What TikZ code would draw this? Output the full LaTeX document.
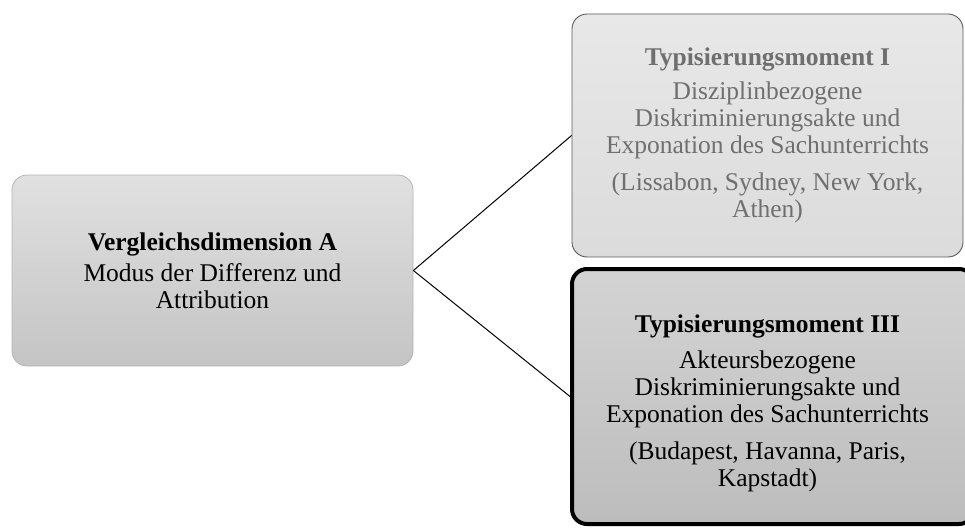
\documentclass[tikz,border=0pt]{standalone}
\usepackage{fontspec}
\setmainfont{Liberation Serif}
\usetikzlibrary{positioning}
\definecolor{txtgray}{HTML}{6F6F6F}
\definecolor{lborder}{HTML}{B4B4B4}
\definecolor{tborder}{HTML}{5A5A5A}
\tikzset{
  boxfont/.style={font=\fontsize{25.5}{27}\selectfont},
  box/.style={rounded corners=15pt, align=center, inner sep=0pt, boxfont},
  leftbox/.style={box, draw=lborder, line width=0.8pt, top color=black!12, bottom color=black!23,
    minimum width=401pt, minimum height=191pt},
  topbox/.style={box, draw=tborder, line width=0.9pt, top color=black!9, bottom color=black!14,
    minimum width=391pt, minimum height=243pt, text=txtgray},
  botbox/.style={box, draw=black, line width=4pt, top color=black!17, bottom color=black!26,
    minimum width=402pt, minimum height=255pt},
  conn/.style={draw=black, line width=1pt}
}
\begin{document}
\begin{tikzpicture}[x=1pt,y=-1pt]
\useasboundingbox (0,0) rectangle (965,527);
\clip (0,0) rectangle (965,527);
\node[leftbox] (dimA) at (212.5,270.5) {\textbf{Vergleichsdimension A}\\[4pt]Modus der Differenz und\\Attribution};
\node[topbox] (tm1) at (767.5,135.5) {\textbf{Typisierungsmoment I}\\[7pt]Disziplinbezogene\\Diskriminierungsakte und\\Exponation des Sachunterrichts\\[10pt](Lissabon, Sydney, New York,\\Athen)};
\node[botbox] (tm3) at (773,396.5) {};
\node[boxfont, align=center, inner sep=0pt] (tm3text) at (767.5,403.5) {\textbf{Typisierungsmoment III}\\[9pt]Akteursbezogene\\Diskriminierungsakte und\\Exponation des Sachunterrichts\\[10pt](Budapest, Havanna, Paris,\\Kapstadt)};
\draw[conn] (dimA.east) -- (tm1.west);
\draw[conn] (dimA.east) -- (tm3.west);
\end{tikzpicture}
\end{document}
